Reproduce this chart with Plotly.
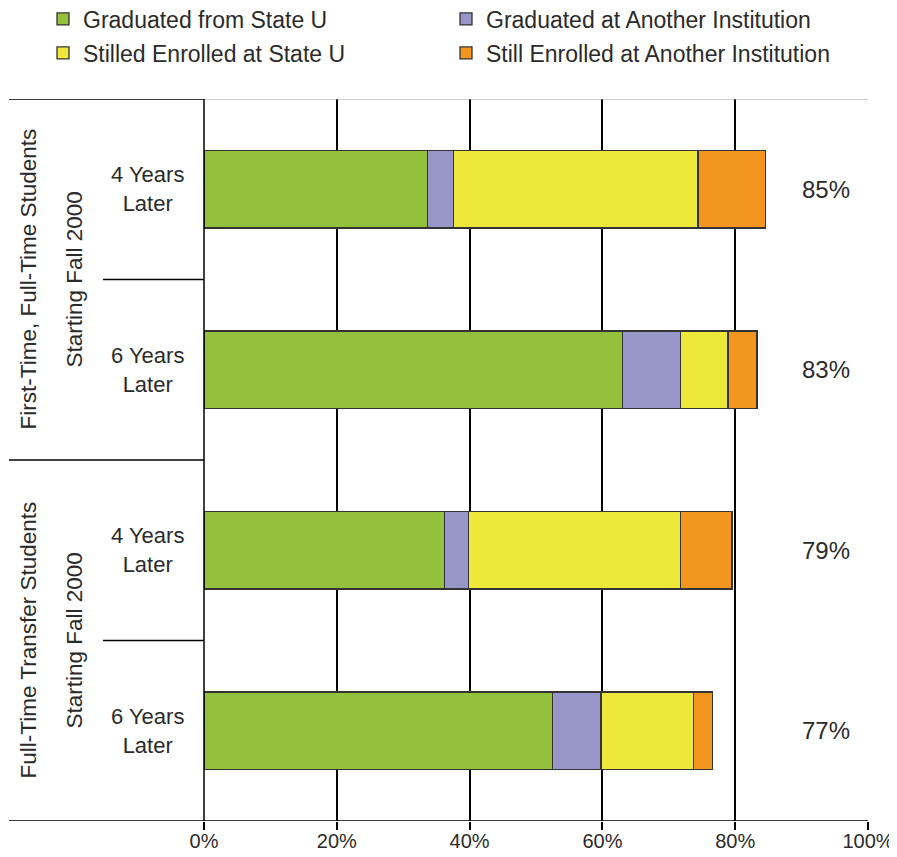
import plotly.graph_objects as go

# ---- data ----
row_ids = ["FT-4", "FT-6", "TR-4", "TR-6"]
row_labels = ["4 Years<br>Later", "6 Years<br>Later", "4 Years<br>Later", "6 Years<br>Later"]
group_names = ["First-Time, Full-Time Students", "Full-Time Transfer Students"]
group_subtitles = ["Starting Fall 2000", "Starting Fall 2000"]
series_names = ["Graduated from State U", "Graduated at Another Institution",
                "Stilled Enrolled at State U", "Still Enrolled at Another Institution"]
grad_state = [33.7, 63.0, 36.2, 52.5]
grad_other = [3.9, 8.8, 3.6, 7.3]
enrolled_state = [36.8, 7.1, 32.0, 13.9]
enrolled_other = [10.2, 4.4, 7.7, 2.9]
totals = [85, 83, 79, 77]
x_ticks = [0, 20, 40, 60, 80, 100]
x_tick_labels = ["0%", "20%", "40%", "60%", "80%", "100%"]

colors = ["#93C13B", "#9896C8", "#EEE83A", "#F3961F"]
legend_slots = ["legend", "legend", "legend2", "legend2"]
FONT = "Liberation Sans, Arial, sans-serif"
TXT = "#2b2b2b"

# the page body adds an 8px offset, so the figure is 8px smaller
W, H = 889, 849
L, R, T, B = 196, 29, 91, 36
plot_w = W - L - R
plot_h = H - T - B

fig = go.Figure()
for name, vals, col, lg in zip(series_names,
                               [grad_state, grad_other, enrolled_state, enrolled_other],
                               colors, legend_slots):
    fig.add_trace(go.Bar(
        y=row_ids, x=vals, name=name, orientation="h", legend=lg,
        marker=dict(color=col, line=dict(color="#333333", width=1.3)),
        hoverinfo="x+name",
    ))

annotations = []
# row labels
for rid, lab in zip(row_ids, row_labels):
    annotations.append(dict(x=0, xref="paper", xshift=-57, y=rid, yref="y", text=lab,
                            showarrow=False, align="center", xanchor="center", yanchor="middle",
                            font=dict(family=FONT, size=22, color=TXT)))
# totals
for rid, tot in zip(row_ids, totals):
    annotations.append(dict(x=93.6, xref="x", y=rid, yref="y", text=f"{tot}%",
                            showarrow=False, xanchor="center", yanchor="middle",
                            font=dict(family=FONT, size=24, color=TXT)))
# group labels (rotated)
for gi, (gn, gs) in enumerate(zip(group_names, group_subtitles)):
    ymid = gi * 2 + 0.5
    annotations.append(dict(x=0, xref="paper", xshift=-176, y=ymid, yref="y", text=gn,
                            showarrow=False, textangle=-90, xanchor="center", yanchor="middle",
                            font=dict(family=FONT, size=22.5, color=TXT)))
    annotations.append(dict(x=0, xref="paper", xshift=-130, y=ymid, yref="y", text=gs,
                            showarrow=False, textangle=-90, xanchor="center", yanchor="middle",
                            font=dict(family=FONT, size=22.5, color=TXT)))

shapes = []
far_left = (1 - L) / plot_w
mid_left = (95 - L) / plot_w
for yb in [-0.5, 1.5, 3.5]:
    shapes.append(dict(type="line", xref="paper", yref="y", x0=far_left, x1=0, y0=yb, y1=yb,
                       line=dict(color="black", width=1.5)))
for yb in [0.5, 2.5]:
    shapes.append(dict(type="line", xref="paper", yref="y", x0=mid_left, x1=0, y0=yb, y1=yb,
                       line=dict(color="black", width=1.5)))
# top border (gray) and bottom axis line
shapes.append(dict(type="line", xref="paper", yref="y", x0=0, x1=1, y0=-0.5, y1=-0.5,
                   line=dict(color="#999999", width=1.2)))
shapes.append(dict(type="line", xref="paper", yref="y", x0=0, x1=1, y0=3.5, y1=3.5,
                   line=dict(color="black", width=1.5)))
shapes.append(dict(type="line", xref="paper", yref="y", x0=0, x1=0, y0=-0.5, y1=3.5,
                   line=dict(color="black", width=1.5)))

legend_left = (35 - L) / plot_w
legend_common = dict(orientation="h", xref="paper", yref="paper",
                     xanchor="left", yanchor="middle",
                     entrywidth=358, entrywidthmode="pixels",
                     font=dict(family=FONT, size=23, color=TXT),
                     traceorder="normal", bgcolor="rgba(0,0,0,0)")

fig.update_layout(
    width=W, height=H,
    margin=dict(l=L, r=R, t=T, b=B, autoexpand=False),
    paper_bgcolor="white", plot_bgcolor="white",
    barmode="stack", bargap=0.57,
    font=dict(family=FONT, size=18, color=TXT),
    showlegend=True,
    legend=dict(x=legend_left, y=1 + (T - 11) / plot_h, **legend_common),
    legend2=dict(x=legend_left, y=1 + (T - 45) / plot_h, **legend_common),
    xaxis=dict(range=[0, 100], tickvals=x_ticks, ticktext=x_tick_labels,
               showgrid=True, gridcolor="black", gridwidth=1.5, zeroline=False,
               showline=False, ticks="outside", ticklen=8, tickcolor="black", tickwidth=1.5,
               ticklabelstandoff=-6,
               tickfont=dict(family=FONT, size=20, color=TXT), fixedrange=True),
    yaxis=dict(type="category", categoryorder="array", categoryarray=row_ids,
               range=[3.5, -0.5], showticklabels=False, showgrid=False, zeroline=False,
               showline=False, ticks="", fixedrange=True),
    annotations=annotations,
    shapes=shapes,
)

fig.write_html("out.html")
